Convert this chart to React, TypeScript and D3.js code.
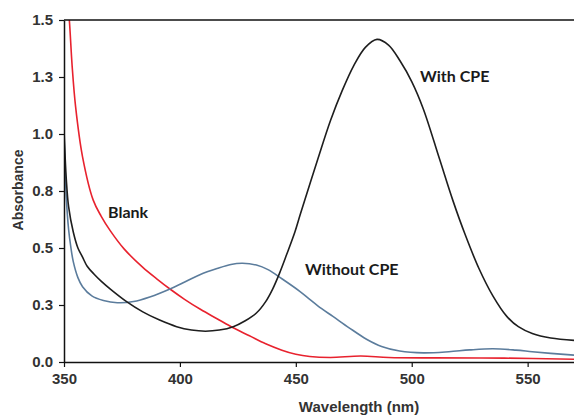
import React, { useRef, useEffect } from "react";
import * as d3 from "d3";

// wavelength (nm) / absorbance pairs
const blankWl = [350, 351, 352.3, 353.5, 355, 358, 362.6, 366, 370, 376, 384, 390, 396, 402, 409, 416, 423, 430, 437, 444, 450, 456, 465, 478, 490, 510, 540, 570];
const blankAbs = [1.85, 1.65, 1.5, 1.3, 1.12, 0.9, 0.71, 0.64, 0.575, 0.495, 0.415, 0.365, 0.318, 0.275, 0.23, 0.19, 0.15, 0.115, 0.08, 0.052, 0.034, 0.024, 0.02, 0.026, 0.02, 0.018, 0.017, 0.012];

const withWl = [350, 351, 352, 354, 356, 358, 360, 363, 366, 370, 377, 384, 391, 398.6, 405, 411, 417, 423, 428, 433, 437, 440, 443, 446, 449.6, 452, 459.5, 465, 470, 475, 480, 485, 490, 495, 500, 505, 512, 517.7, 523, 529, 535, 541, 546, 552, 560, 570];
const withAbs = [1.02, 0.8, 0.68, 0.57, 0.5, 0.46, 0.42, 0.385, 0.355, 0.32, 0.265, 0.22, 0.185, 0.155, 0.14, 0.135, 0.14, 0.155, 0.18, 0.215, 0.265, 0.32, 0.39, 0.47, 0.57, 0.65, 0.89, 1.06, 1.19, 1.3, 1.38, 1.415, 1.39, 1.32, 1.23, 1.11, 0.89, 0.71, 0.56, 0.41, 0.29, 0.2, 0.155, 0.125, 0.105, 0.095];

const withoutWl = [350, 351, 352, 353, 354, 356, 358, 362, 367, 373, 380, 387, 395.7, 401.4, 408.6, 416, 422, 427, 433, 438, 444, 451.7, 456, 461, 466, 473, 480.5, 487, 494.8, 505, 516, 525, 535, 545, 552, 560, 570];
const withoutAbs = [1.0, 0.72, 0.58, 0.5, 0.44, 0.37, 0.33, 0.29, 0.27, 0.26, 0.265, 0.285, 0.32, 0.348, 0.383, 0.41, 0.428, 0.433, 0.425, 0.405, 0.365, 0.31, 0.275, 0.235, 0.2, 0.15, 0.1, 0.068, 0.048, 0.04, 0.045, 0.053, 0.058, 0.052, 0.045, 0.038, 0.03];

const xTicks = [350, 400, 450, 500, 550];
const yTicks = [0, 0.25, 0.5, 0.75, 1.0, 1.25, 1.5];

const series = [
  { name: "Blank", wl: blankWl, abs: blankAbs, color: "#e8222e" },
  { name: "Without CPE", wl: withoutWl, abs: withoutAbs, color: "#5b7c9c" },
  { name: "With CPE", wl: withWl, abs: withAbs, color: "#1e1e1e" },
];

const W = 574;
const H = 419;
const left = 64;
const top = 20;
const bottom = 362;

export default function App() {
  const xAxisRef = useRef<SVGGElement>(null);
  const yAxisRef = useRef<SVGGElement>(null);

  const x = d3.scaleLinear().domain([350, 570]).range([left, W]);
  const y = d3.scaleLinear().domain([0, 1.5]).range([bottom, top]);

  useEffect(() => {
    document.body.style.margin = "0";
    const xa = d3.select(xAxisRef.current);
    xa.call(d3.axisBottom(x).tickValues(xTicks).tickSize(5).tickSizeOuter(0).tickPadding(6));
    const ya = d3.select(yAxisRef.current);
    ya.call(d3.axisLeft(y).tickValues(yTicks).tickSize(5).tickSizeOuter(0).tickPadding(6).tickFormat(d3.format(".1f")));
    [xa, ya].forEach((a) => {
      a.select(".domain").attr("stroke", "#111").attr("stroke-width", 1.5);
      a.selectAll(".tick line").attr("stroke", "#111").attr("stroke-width", 1.2);
      a.selectAll(".tick text")
        .attr("fill", "#333")
        .style("font-family", "'Liberation Sans', Arial, sans-serif")
        .style("font-size", "15px")
        .style("font-weight", "bold");
    });
  }, []);

  const line = (wl: number[], abs: number[]) =>
    d3
      .line<number>()
      .x((d, i) => x(wl[i]))
      .y((d) => y(d))
      .curve(d3.curveCatmullRom.alpha(0.5))(abs) || "";

  return (
    <svg width={W} height={H} style={{ display: "block", background: "#fff" }}>
      <defs>
        <clipPath id="plot">
          <rect x={left} y={top} width={W - left} height={bottom - top} />
        </clipPath>
      </defs>
      <g clipPath="url(#plot)">
        {series.map((s) => (
          <path key={s.name} d={line(s.wl, s.abs)} fill="none" stroke={s.color} strokeWidth={1.6} />
        ))}
      </g>
      <line x1={left} x2={W} y1={top} y2={top} stroke="#111" strokeWidth={1.5} />
      <g ref={xAxisRef} transform={`translate(0,${bottom})`} />
      <g ref={yAxisRef} transform={`translate(${left},0)`} />
      <g style={{ fontFamily: "Lato, 'Open Sans', sans-serif", fontWeight: "bold", fontSize: 16 }} fill="#1a1a1a">
        <text x={108} y={218}>Blank</text>
        <text x={305} y={275}>Without CPE</text>
        <text x={420} y={82}>With CPE</text>
      </g>
      <text
        x={359}
        y={412}
        textAnchor="middle"
        fill="#333"
        style={{ fontFamily: "'Liberation Sans', Arial, sans-serif", fontWeight: "bold", fontSize: 15 }}
      >
        Wavelength (nm)
      </text>
      <text
        transform={`translate(23,190) rotate(-90)`}
        textAnchor="middle"
        fill="#333"
        style={{ fontFamily: "'Liberation Sans', Arial, sans-serif", fontWeight: "bold", fontSize: 14 }}
      >
        Absorbance
      </text>
    </svg>
  );
}
